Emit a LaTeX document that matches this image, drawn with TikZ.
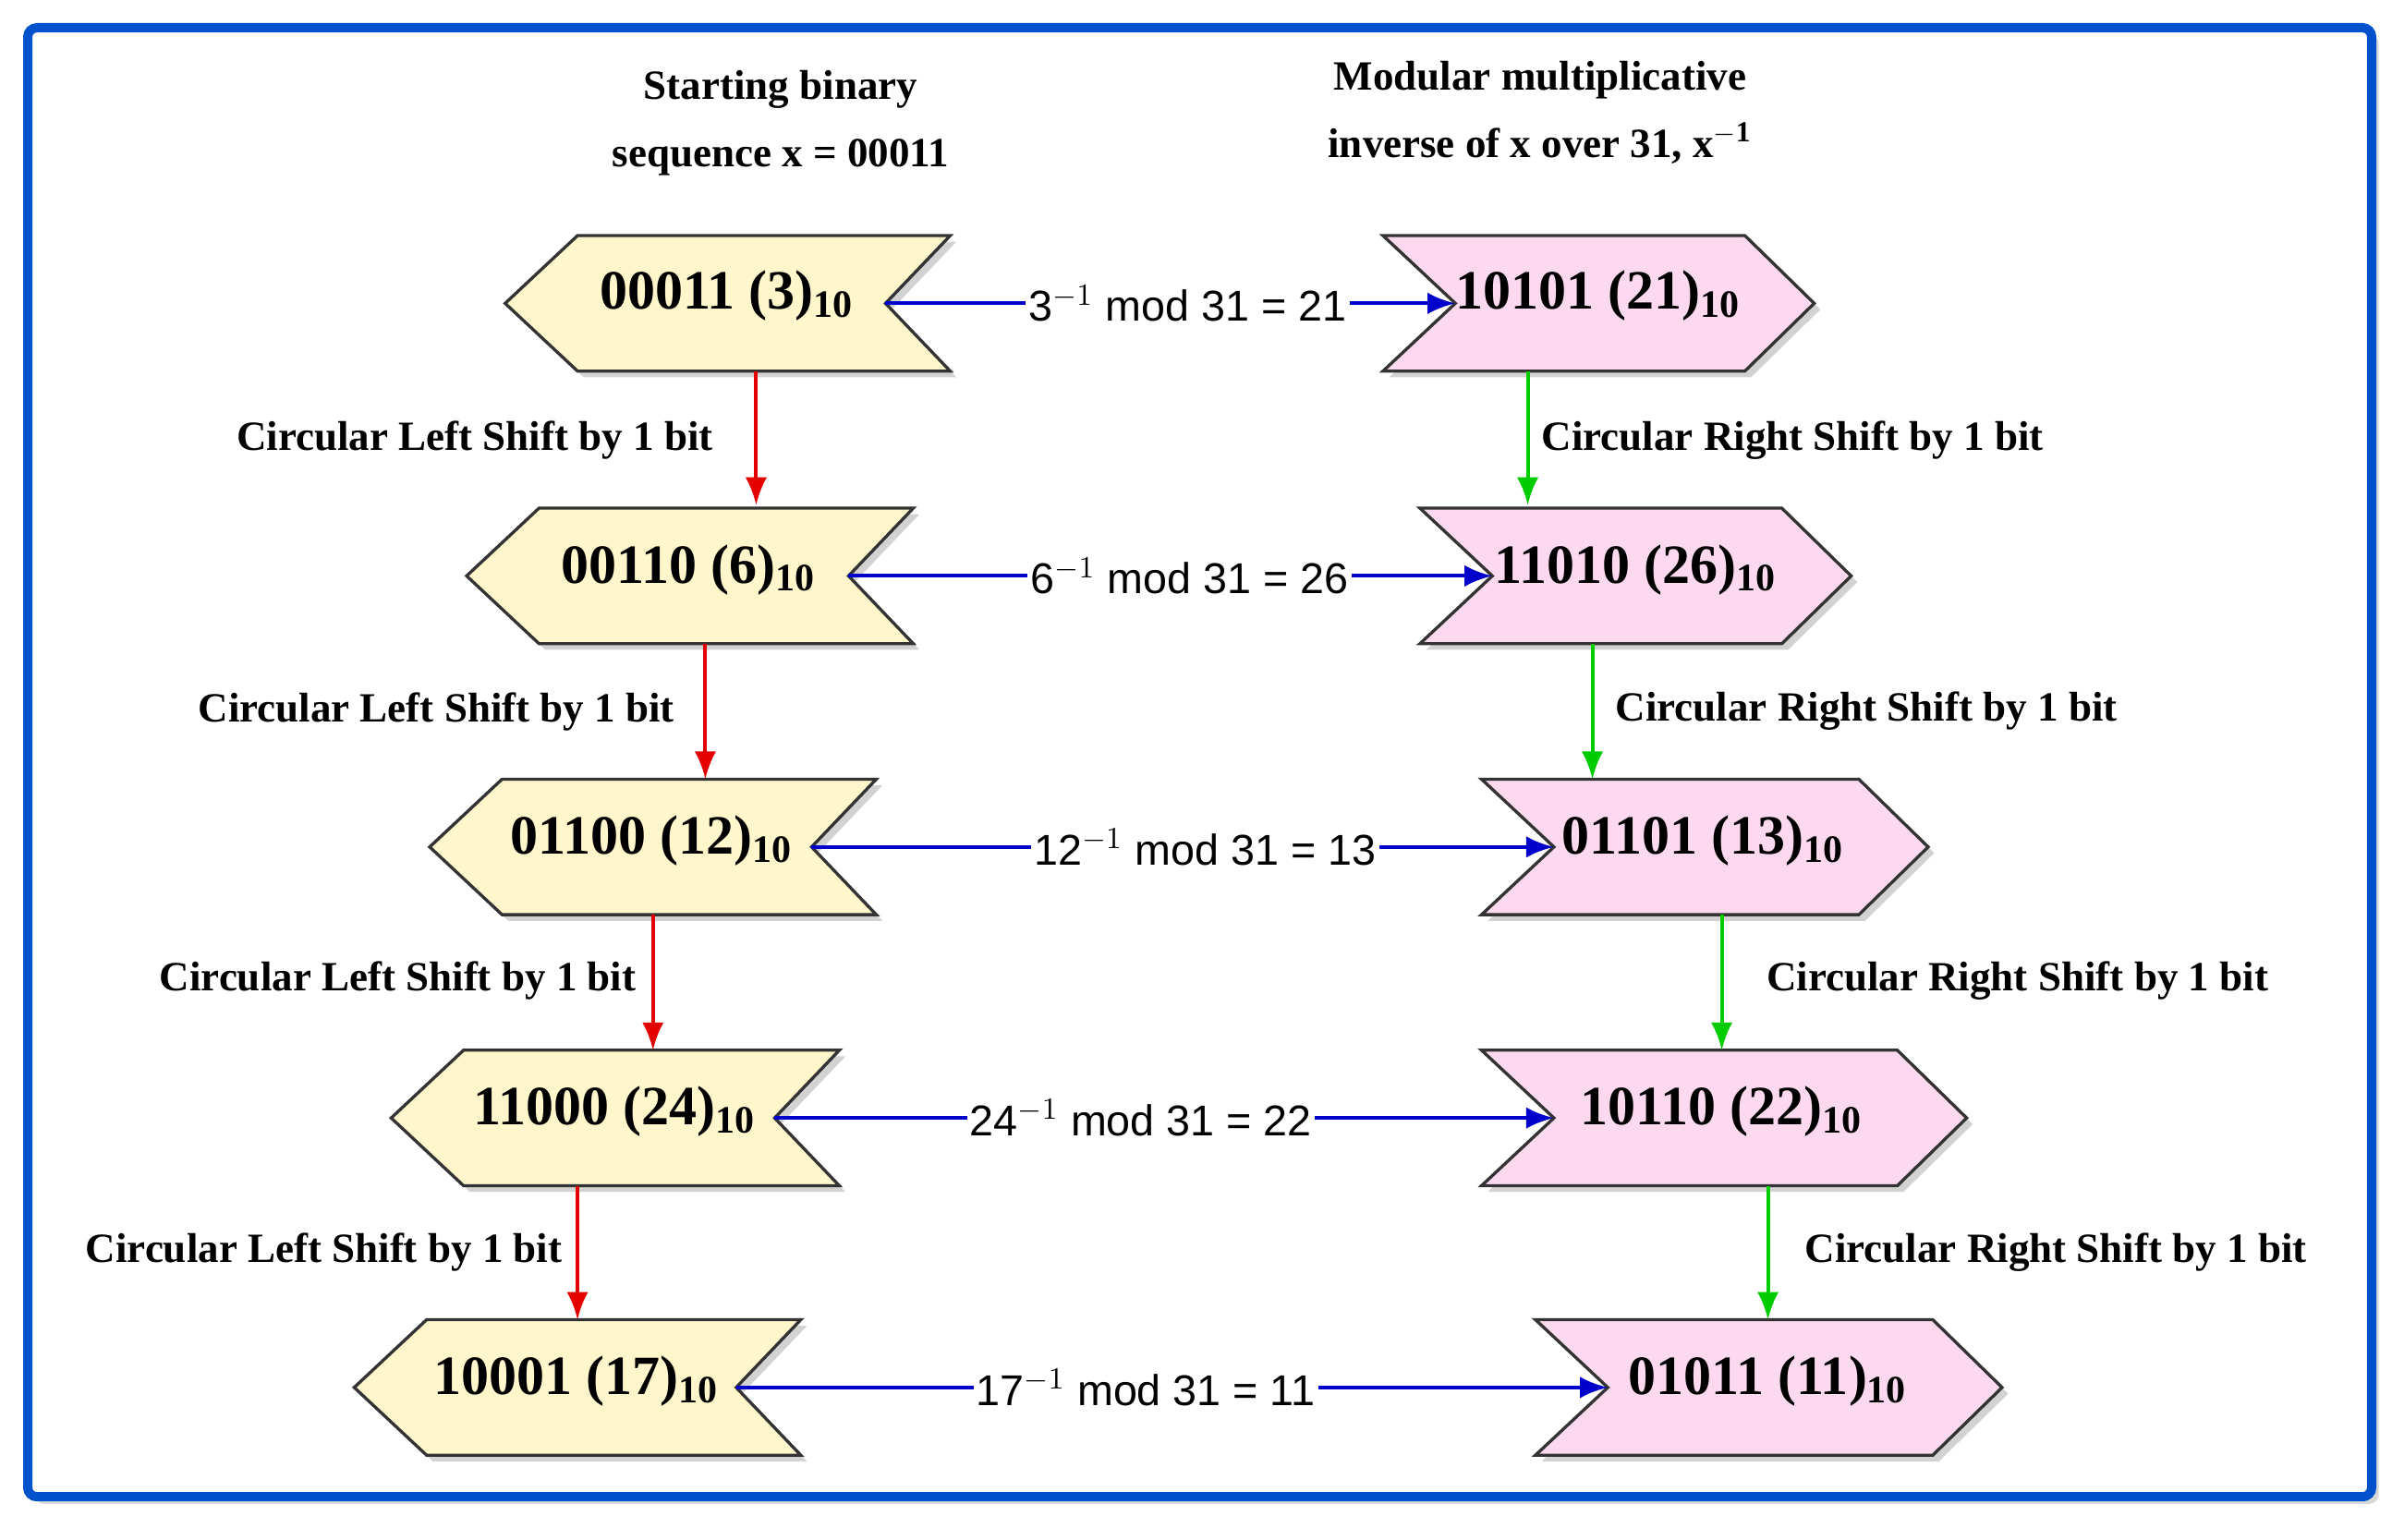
\documentclass[tikz,border=0pt]{standalone}
\usepackage{fontspec}
\setmainfont{Liberation Serif}
\newfontfamily\sansf{Liberation Sans}
\usetikzlibrary{shadows,arrows.meta}
\tikzset{
 lsh/.style={draw=black!80,line width=1pt,fill=yellow!15!white!95!orange,drop shadow={opacity=0.35,shadow xshift=2pt,shadow yshift=-2pt}},
 rsh/.style={draw=black!80,line width=1pt,fill=magenta!15,drop shadow={opacity=0.35,shadow xshift=2pt,shadow yshift=-2pt}},
 btxt/.style={font=\fontsize{18}{20}\selectfont\bfseries},
 mtxt/.style={font=\sansf\fontsize{14}{16}\selectfont,fill=white,text=black,inner sep=1pt},
 stxt/.style={font=\fontsize{13.5}{22}\selectfont\bfseries},
 blu/.style={-{Latex[length=9pt,width=7pt]},blue!80!black,line width=1.2pt},
 red/.style={-{Latex[length=9pt,width=7pt]},red!90!black,line width=1.2pt},
 grn/.style={-{Latex[length=9pt,width=7pt]},green!80!black,line width=1.2pt},
}
\newcommand\LSh[4]{% name x1 x2 y
 \path[lsh] (#2,#4) -- (#2+47,#4-44) -- (#3,#4-44) -- (#3-42,#4) -- (#3,#4+44) -- (#2+47,#4+44) -- cycle;
 \coordinate (#1n) at (#3-42,#4);}
\newcommand\RSh[4]{%
 \path[rsh] (#2,#4-44) -- (#3-45,#4-44) -- (#3,#4) -- (#3-45,#4+44) -- (#2,#4+44) -- (#2+47,#4) -- cycle;
 \coordinate (#1n) at (#2+47,#4);}
\begin{document}
\begin{tikzpicture}[x=0.5pt,y=-0.5pt]
\useasboundingbox (0,0) rectangle (1561,1000);
\fill[white] (0,0) rectangle (1561,1000);
\draw[blue!60!cyan!80!black,line width=3pt,rounded corners=3pt,fill=white,drop shadow={opacity=0.3}] (18,18) rectangle (1540,972);
\node[stxt,align=center] (h1) at (507,80) {Starting binary\\sequence x = 00011};
\node[stxt,align=center] (h2) at (1000,73) {Modular multiplicative\\inverse of x over 31, x$^{\mathbf{-1}}$};
% shapes
\LSh{L1}{328}{617}{197} \LSh{L2}{303}{593}{374} \LSh{L3}{279}{569}{550} \LSh{L4}{254}{545}{726} \LSh{L5}{230}{520}{901}
\RSh{R1}{898}{1178}{197} \RSh{R2}{922}{1202}{374} \RSh{R3}{962}{1252}{550} \RSh{R4}{962}{1277}{726} \RSh{R5}{997}{1300}{901}
\node[btxt] (l1) at (472,192) {00011 (3)$_{\mathbf{10}}$};
\node[btxt] (l2) at (447,370) {00110 (6)$_{\mathbf{10}}$};
\node[btxt] (l3) at (423,546) {01100 (12)$_{\mathbf{10}}$};
\node[btxt] (l4) at (399,722) {11000 (24)$_{\mathbf{10}}$};
\node[btxt] (l5) at (374,897) {10001 (17)$_{\mathbf{10}}$};
\node[btxt] (r1) at (1038,192) {10101 (21)$_{\mathbf{10}}$};
\node[btxt] (r2) at (1062,370) {11010 (26)$_{\mathbf{10}}$};
\node[btxt] (r3) at (1106,546) {01101 (13)$_{\mathbf{10}}$};
\node[btxt] (r4) at (1118,722) {10110 (22)$_{\mathbf{10}}$};
\node[btxt] (r5) at (1148,897) {01011 (11)$_{\mathbf{10}}$};
% blue arrows
\draw[blu] (L1n) -- node[mtxt,pos=0.53] (m1) {3$^{-1}$ mod 31 = 21} (R1n);
\draw[blu] (L2n) -- node[mtxt,pos=0.53] (m2) {6$^{-1}$ mod 31 = 26} (R2n);
\draw[blu] (L3n) -- node[mtxt,pos=0.53] (m3) {12$^{-1}$ mod 31 = 13} (R3n);
\draw[blu] (L4n) -- node[mtxt,pos=0.47] (m4) {24$^{-1}$ mod 31 = 22} (R4n);
\draw[blu] (L5n) -- node[mtxt,pos=0.47] (m5) {17$^{-1}$ mod 31 = 11} (R5n);
% red arrows
\coordinate (a1) at (491,241); \coordinate (b1) at (491,328);
\coordinate (a2) at (458,418); \coordinate (b2) at (458,506);
\coordinate (a3) at (424,594); \coordinate (b3) at (424,682);
\coordinate (a4) at (375,770); \coordinate (b4) at (375,857);
\draw[red] (a1) -- (b1); \draw[red] (a2) -- (b2); \draw[red] (a3) -- (b3); \draw[red] (a4) -- (b4);
\node[stxt,anchor=east] (c1) at (470,286) {Circular Left Shift by 1 bit};
\node[stxt,anchor=east] (c2) at (445,462) {Circular Left Shift by 1 bit};
\node[stxt,anchor=east] (c3) at (420,637) {Circular Left Shift by 1 bit};
\node[stxt,anchor=east] (c4) at (372,813) {Circular Left Shift by 1 bit};
% green arrows
\coordinate (g1) at (992,241); \coordinate (h1e) at (992,328);
\coordinate (g2) at (1034,418); \coordinate (h2e) at (1034,506);
\coordinate (g3) at (1118,594); \coordinate (h3e) at (1118,682);
\coordinate (g4) at (1148,770); \coordinate (h4e) at (1148,857);
\draw[grn] (g1) -- (h1e); \draw[grn] (g2) -- (h2e); \draw[grn] (g3) -- (h3e); \draw[grn] (g4) -- (h4e);
\node[stxt,anchor=west] (d1) at (994,286) {Circular Right Shift by 1 bit};
\node[stxt,anchor=west] (d2) at (1042,462) {Circular Right Shift by 1 bit};
\node[stxt,anchor=west] (d3) at (1140,637) {Circular Right Shift by 1 bit};
\node[stxt,anchor=west] (d4) at (1165,813) {Circular Right Shift by 1 bit};
\end{tikzpicture}
\end{document}
